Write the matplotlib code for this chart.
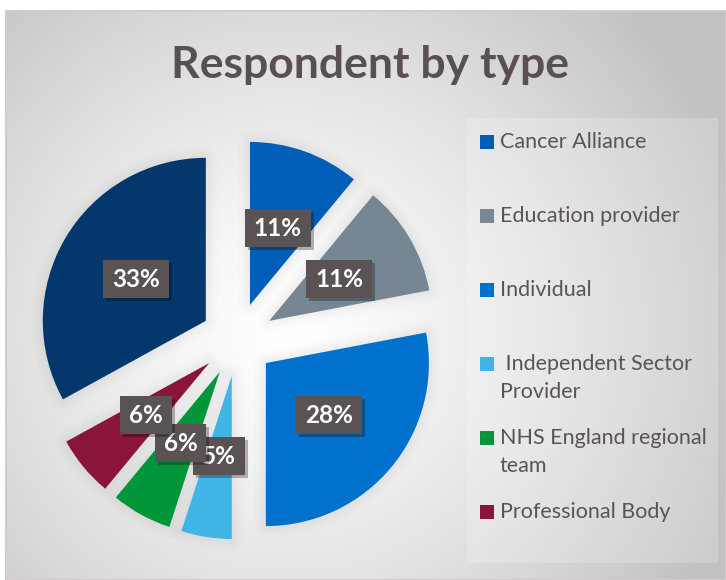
import numpy as np
import matplotlib
matplotlib.use('Agg')
import matplotlib.pyplot as plt
from matplotlib.patches import Rectangle, Wedge

# ---------------- data ----------------
title = "Respondent by type"
categories = ["Cancer Alliance", "Education provider", "Individual",
              " Independent Sector\nProvider", "NHS England regional\nteam",
              "Professional Body", "Trust"]
shares = [11, 11, 28, 5, 6, 6, 33]
colors = ["#005EB8", "#768692", "#0072CE", "#41B6E6", "#009639", "#8A1538", "#04386C"]
legend_count = 6  # reference legend shows only the first six entries

FONT = "Lato"
W, H = 726, 580
fig = plt.figure(figsize=(W / 100, H / 100), dpi=100)
fig.patch.set_facecolor("white")

# ---------------- background (pixel coordinates, y down) ----------------
bg = fig.add_axes([0, 0, 1, 1])
bg.axis("off")
x0, x1, y0, y1 = 6, W, 11, H
yy, xx = np.mgrid[y0:y1, x0:x1]
cx, cy = 290, 330
d = np.clip(np.hypot(xx - cx, yy - cy) / 470.0, 0, 1)
val = 1 - (1 - 0.76) * d ** 1.3
img = np.dstack([val, val, val])
bg.imshow(img, extent=(x0, x1, y1, y0), origin="upper", interpolation="bilinear", zorder=0)
bg.set_aspect("auto")
bg.set_xlim(0, W)
bg.set_ylim(H, 0)
bg.add_patch(Rectangle((x0, y0), x1 - x0, y1 - y0, fill=False, ec="#d2cccd", lw=1.5, zorder=1))

bg.text(370, 65, title, ha="center", va="center", fontsize=32, fontweight="bold",
        color="#594f54", family=FONT, zorder=3)

# legend panel
bg.add_patch(Rectangle((467, 118), 251, 445, fc="white", alpha=0.2, ec="none", zorder=1))
pitch = 74
line_h = 28.7
for i in range(legend_count):
    yc = 141.5 + i * pitch
    bg.add_patch(Rectangle((480, yc - 7), 14, 14, fc=colors[i], ec="none", zorder=3))
    for j, line in enumerate(categories[i].split("\n")):
        bg.text(500, yc + j * line_h, line, ha="left", va="center", fontsize=15.5,
                color="#5b5356", family=FONT, zorder=3)

# ---------------- pie ----------------
r_px = 163.0
a = 1.4
size = 2 * a * r_px
pcx, pcy = 237.5, H - 339.6
ax = fig.add_axes([(pcx - size / 2) / W, (pcy - size / 2) / H, size / W, size / H])
wedges, texts, autotexts = ax.pie(
    shares, colors=colors, startangle=90, counterclock=False,
    explode=[0.226] * len(shares), radius=1,
    autopct=lambda p: f"{p:.0f}%", pctdistance=0.5,
    wedgeprops=dict(linewidth=0, zorder=2),
    textprops=dict(color="white", fontsize=17.5, fontweight="bold", family=FONT),
)
ax.set_xlim(-a, a)
ax.set_ylim(-a, a)
ax.axis("off")

# soft halo behind wedges
for w in wedges:
    for lw, al in ((16, 0.025), (10, 0.03), (5, 0.035)):
        ax.add_patch(Wedge(w.center, w.r, w.theta1, w.theta2, fc="#808080", ec="#808080",
                           lw=lw, alpha=al, zorder=1, joinstyle="round"))

# label boxes (drawn in slice order so later labels sit on top)
fig.canvas.draw()
inv = ax.transData.inverted()
box_h = 38
pad_x = 9
for i, t in enumerate(autotexts):
    ext = t.get_window_extent()
    xc = (ext.x0 + ext.x1) / 2
    yc = (ext.y0 + ext.y1) / 2
    bw = ext.width + 2 * pad_x
    for dx, dy, fc, z in ((3, -3, (0, 0, 0, 0.28), 10 + 3 * i), (0, 0, "#5b5254", 11 + 3 * i)):
        (dx0, dy0) = inv.transform((xc - bw / 2 + dx, yc - box_h / 2 + dy))
        (dx1, dy1) = inv.transform((xc + bw / 2 + dx, yc + box_h / 2 + dy))
        ax.add_patch(Rectangle((dx0, dy0), dx1 - dx0, dy1 - dy0, fc=fc, ec="none", zorder=z))
    t.set_zorder(12 + 3 * i)

fig.savefig("out.png", dpi=100, facecolor=fig.get_facecolor())
